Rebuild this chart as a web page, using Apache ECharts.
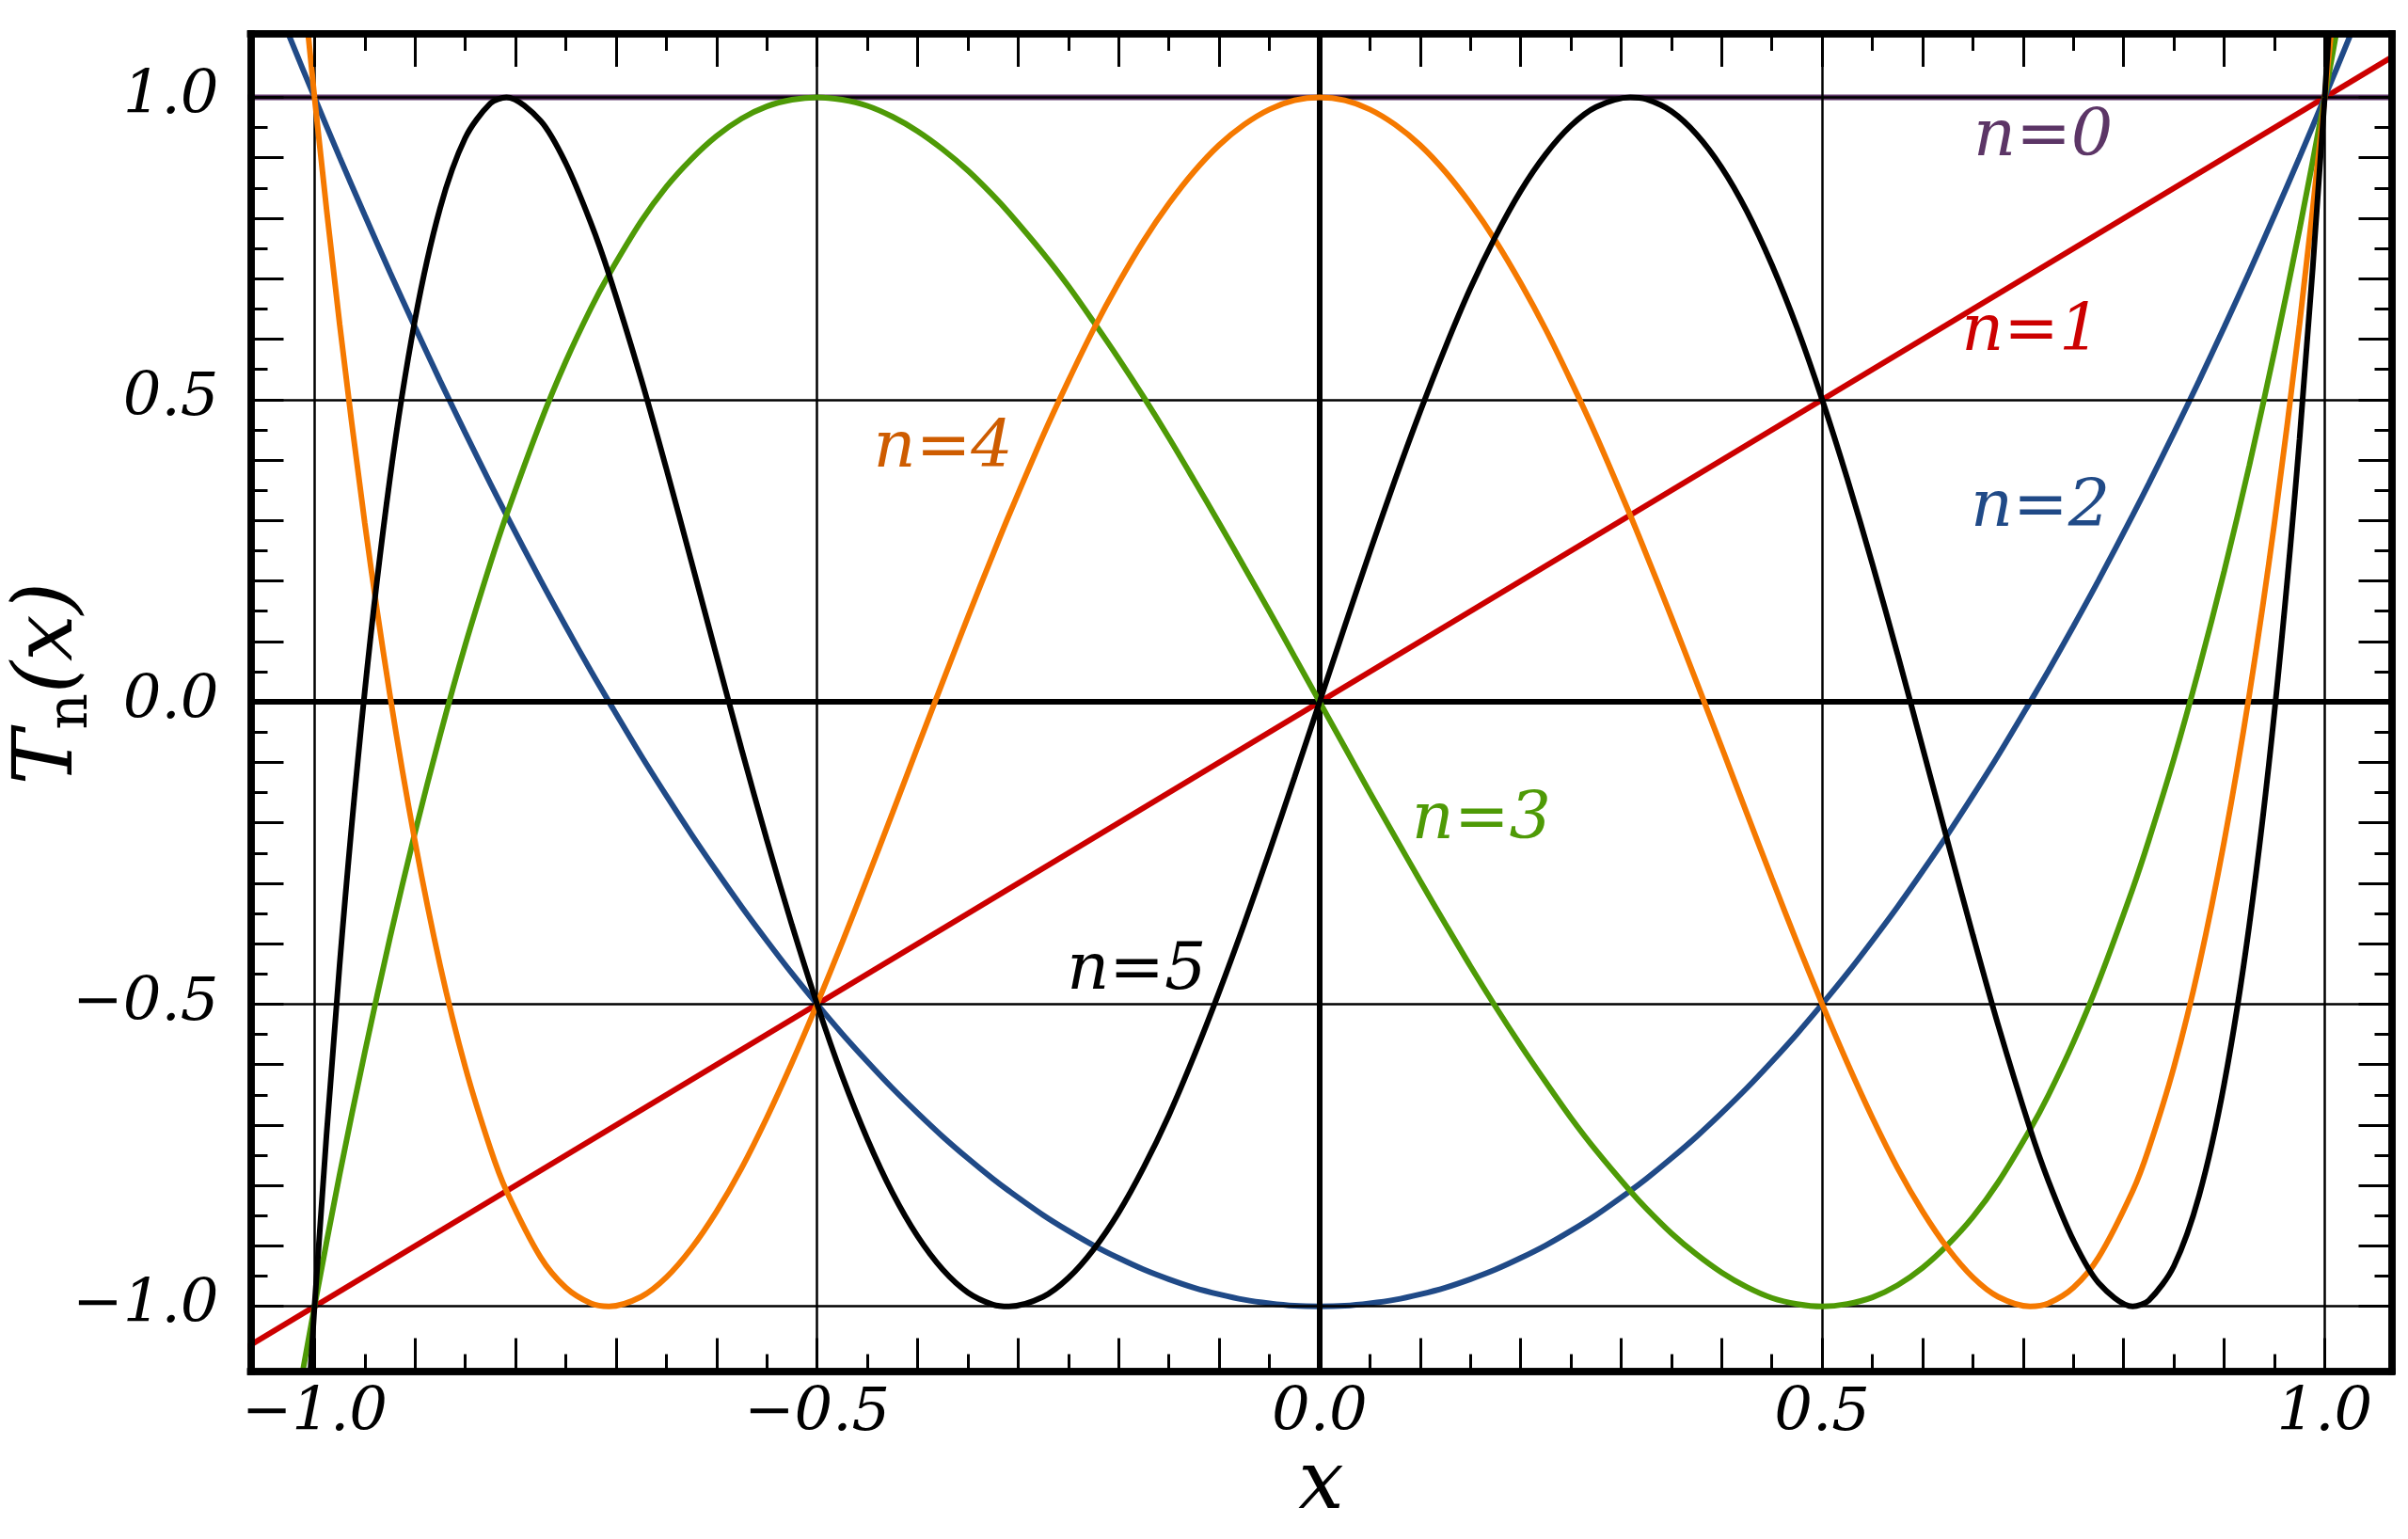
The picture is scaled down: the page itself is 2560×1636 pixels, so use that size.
<!DOCTYPE html>
<html>
<head>
<meta charset="utf-8">
<script src="https://cdn.jsdelivr.net/npm/echarts@6/dist/echarts.min.js"></script>
<style>
html,body{margin:0;padding:0;background:#fff;}
#chart{width:2560px;height:1636px;}
</style>
</head>
<body>
<div id="chart"></div>
<script>
// ---- data ----
const xs = [-1.075,-1.05,-1.025,-1,-0.975,-0.95,-0.925,-0.9,-0.875,-0.85,-0.825,-0.809,-0.775,-0.75,-0.725,-0.707,-0.675,-0.65,-0.625,-0.6,-0.575,-0.55,-0.525,-0.5,-0.475,-0.45,-0.425,-0.4,-0.375,-0.35,-0.325,-0.309,-0.275,-0.25,-0.225,-0.2,-0.175,-0.15,-0.125,-0.1,-0.075,-0.05,-0.025,0,0.025,0.05,0.075,0.1,0.125,0.15,0.175,0.2,0.225,0.25,0.275,0.309,0.325,0.35,0.375,0.4,0.425,0.45,0.475,0.5,0.525,0.55,0.575,0.6,0.625,0.65,0.675,0.707,0.725,0.75,0.775,0.809,0.825,0.85,0.875,0.9,0.925,0.95,0.975,1,1.025,1.05,1.075];

const lineX = [-1.075, 1.075];
const t0 = [1, 1];
const t1 = [-1.075, 1.075];

const t2 = [1.311,1.205,1.101,1,0.901,0.805,0.711,0.62,0.531,0.445,0.361,0.309,0.201,0.125,0.051,0,-0.089,-0.155,-0.219,-0.28,-0.339,-0.395,-0.449,-0.5,-0.549,-0.595,-0.639,-0.68,-0.719,-0.755,-0.789,-0.809,-0.849,-0.875,-0.899,-0.92,-0.939,-0.955,-0.969,-0.98,-0.989,-0.995,-0.999,
 -1,
 -0.999,-0.995,-0.989,-0.98,-0.969,-0.955,-0.939,-0.92,-0.899,-0.875,-0.849,-0.809,-0.789,-0.755,-0.719,-0.68,-0.639,-0.595,-0.549,-0.5,-0.449,-0.395,-0.339,-0.28,-0.219,-0.155,-0.089,0,0.051,0.125,0.201,0.309,0.361,0.445,0.531,0.62,0.711,0.805,0.901,1,1.101,1.205,1.311];

const t3 = [-1.744,-1.481,-1.233,-1,-0.782,-0.58,-0.391,-0.216,-0.055,0.094,0.229,0.309,0.463,0.563,0.651,0.707,0.795,0.852,0.898,0.936,0.965,0.985,0.996,1,0.996,0.986,0.968,0.944,0.914,0.879,0.838,0.809,0.742,0.688,0.629,0.568,0.504,0.437,0.367,0.296,0.223,0.15,0.075,
 0,
 -0.075,-0.15,-0.223,-0.296,-0.367,-0.437,-0.504,-0.568,-0.629,-0.688,-0.742,-0.809,-0.838,-0.879,-0.914,-0.944,-0.968,-0.986,-0.996,-1,-0.996,-0.985,-0.965,-0.936,-0.898,-0.852,-0.795,-0.707,-0.651,-0.563,-0.463,-0.309,-0.229,-0.094,0.055,0.216,0.391,0.58,0.782,1,1.233,1.481,1.744];

const t4 = [2.439,1.904,1.426,1,0.625,0.296,0.012,-0.231,-0.436,-0.604,-0.739,-0.809,-0.919,-0.969,-0.995,-1,-0.984,-0.952,-0.904,-0.843,-0.771,-0.688,-0.597,-0.5,-0.398,-0.292,-0.184,-0.075,0.033,0.14,0.244,0.309,0.441,0.531,0.616,0.693,0.763,0.824,0.877,0.921,0.955,0.98,0.995,
 1,
 0.995,0.98,0.955,0.921,0.877,0.824,0.763,0.693,0.616,0.531,0.441,0.309,0.244,0.14,0.033,-0.075,-0.184,-0.292,-0.398,-0.5,-0.597,-0.688,-0.771,-0.843,-0.904,-0.952,-0.984,-1,-0.995,-0.969,-0.919,-0.809,-0.739,-0.604,-0.436,-0.231,0.012,0.296,0.625,1,1.426,1.904,2.439];

const t5 = [-3.499,-2.518,-1.69,-1,-0.435,0.017,0.369,0.632,0.817,0.933,0.99,1,0.961,0.891,0.792,0.707,0.534,0.386,0.232,0.076,-0.079,-0.228,-0.369,-0.5,-0.619,-0.723,-0.812,-0.884,-0.939,-0.977,-0.997,-1,-0.984,-0.953,-0.906,-0.845,-0.77,-0.684,-0.586,-0.48,-0.367,-0.248,-0.125,
 0,
 0.125,0.248,0.367,0.48,0.586,0.684,0.77,0.845,0.906,0.953,0.984,1,0.997,0.977,0.939,0.884,0.812,0.723,0.619,0.5,0.369,0.228,0.079,-0.076,-0.232,-0.386,-0.534,-0.707,-0.792,-0.891,-0.961,-1,-0.99,-0.933,-0.817,-0.632,-0.369,-0.017,0.435,1,1.69,2.518,3.499];

const seriesNames = ['n=0','n=1','n=2','n=3','n=4','n=5'];

// tick labels / tick positions
const labelTicks = [-1, -0.5, 0, 0.5, 1];
const majorTicks = [-1,-0.9,-0.8,-0.7,-0.6,-0.5,-0.4,-0.3,-0.2,-0.1,0,0.1,0.2,0.3,0.4,0.5,0.6,0.7,0.8,0.9,1];
const minorTicks = [-0.95,-0.85,-0.75,-0.65,-0.55,-0.45,-0.35,-0.25,-0.15,-0.05,0.05,0.15,0.25,0.35,0.45,0.55,0.65,0.75,0.85,0.95];
const gridLines = [-1, -0.5, 0.5, 1];
const zeroLines = [0];

// ---- styling ----
const XMIN = -1.0635, XMAX = 1.0665, YMIN = -1.107, YMAX = 1.105;
const lineColors = ['#5c3566','#cc0000','#204a87','#4e9a06','#f57900','#000000'];
const labelColors = ['#5c3566','#cc0000','#204a87','#4e9a06','#ce5c00','#000000'];
const labelPos = [[0.72,0.932],[0.708,0.611],[0.717,0.32],[0.161,-0.197],[-0.3745,0.418],[-0.182,-0.446]];
const FONT = 'DejaVu Serif';
const LW = 6;

function fmt(v){ return (v < 0 ? '\u2212' : '') + Math.abs(v).toFixed(1); }

function mkAxis(kind, pos, ticks, len, withLabels, extra) {
  const a = {
    type: 'value', position: pos, z: 10,
    min: kind === 'x' ? XMIN : YMIN,
    max: kind === 'x' ? XMAX : YMAX,
    axisLine: {show: true, onZero: false, lineStyle: {color: '#000', width: 7.5, cap: 'square'}},
    axisTick: {show: true, inside: true, length: len, customValues: ticks, lineStyle: {color: '#000', width: 3}},
    axisLabel: withLabels ? {
      show: true, customValues: labelTicks, formatter: fmt,
      fontFamily: FONT, fontStyle: 'italic', fontSize: 64, color: '#000',
      margin: kind === 'x' ? 14 : 34
    } : {show: false},
    splitLine: {show: false}
  };
  return Object.assign(a, extra || {});
}

const xAxes = [
  mkAxis('x', 'bottom', majorTicks, 35, true, {
    name: 'x', nameLocation: 'middle', nameGap: 80, nameMoveOverlap: false,
    nameTextStyle: {fontFamily: FONT, fontStyle: 'italic', fontSize: 86, color: '#000'}
  }),
  mkAxis('x', 'bottom', minorTicks, 18, false),
  mkAxis('x', 'top', majorTicks, 35, false),
  mkAxis('x', 'top', minorTicks, 18, false)
];
const yAxes = [
  mkAxis('y', 'left', majorTicks, 35, true, {
    name: '{t|T}{s|n}{t|(x)}', nameLocation: 'middle', nameGap: 160, nameRotate: 90, nameMoveOverlap: false,
    nameTextStyle: {
      fontFamily: FONT, fontStyle: 'italic', fontSize: 86, color: '#000', padding: [0, 0, 0, 40],
      rich: {
        t: {fontFamily: FONT, fontStyle: 'italic', fontSize: 88, color: '#000', verticalAlign: 'middle', lineHeight: 106},
        s: {fontFamily: FONT, fontStyle: 'normal', fontSize: 60, color: '#000', verticalAlign: 'bottom', lineHeight: 106}
      }
    }
  }),
  mkAxis('y', 'left', minorTicks, 18, false),
  mkAxis('y', 'right', majorTicks, 35, false),
  mkAxis('y', 'right', minorTicks, 18, false)
];

const curves = [
  lineX.map((x, i) => [x, t0[i]]),
  lineX.map((x, i) => [x, t1[i]]),
  xs.map((x, i) => [x, t2[i]]),
  xs.map((x, i) => [x, t3[i]]),
  xs.map((x, i) => [x, t4[i]]),
  xs.map((x, i) => [x, t5[i]])
];

const series = [{
  type: 'line', name: 'grid', z: 1, silent: true, showSymbol: false,
  data: [[0, 0]], lineStyle: {opacity: 0},
  markLine: {
    silent: true, symbol: 'none', animation: false,
    label: {show: false},
    data: [].concat(
      gridLines.map(v => ({xAxis: v, lineStyle: {color: '#000', width: 2.5, type: 'solid'}})),
      gridLines.map(v => ({yAxis: v, lineStyle: {color: '#000', width: 2.5, type: 'solid'}})),
      zeroLines.map(v => ({xAxis: v, lineStyle: {color: '#000', width: 6, type: 'solid'}})),
      zeroLines.map(v => ({yAxis: v, lineStyle: {color: '#000', width: 6, type: 'solid'}}))
    )
  }
}];

curves.forEach((d, k) => {
  series.push({
    type: 'line', name: seriesNames[k], z: 2 + k, data: d,
    showSymbol: false, smooth: 0.3, clip: true, silent: true,
    lineStyle: {color: lineColors[k], width: LW},
    itemStyle: {color: lineColors[k]},
    markPoint: {
      silent: true, symbol: 'circle', symbolSize: 0, animation: false,
      itemStyle: {color: 'rgba(0,0,0,0)'},
      data: [{coord: labelPos[k]}],
      label: {
        show: true, position: 'inside', formatter: seriesNames[k],
        color: labelColors[k], fontFamily: FONT, fontStyle: 'italic', fontSize: 70
      }
    }
  });
});

const chart = echarts.init(document.getElementById('chart'), null, {renderer: 'canvas'});
chart.setOption({
  backgroundColor: '#ffffff',
  animation: false,
  grid: {left: 266.5, right: 17.5, top: 36, bottom: 178.5, show: false, containLabel: false},
  xAxis: xAxes,
  yAxis: yAxes,
  series: series
});
</script>
</body>
</html>
